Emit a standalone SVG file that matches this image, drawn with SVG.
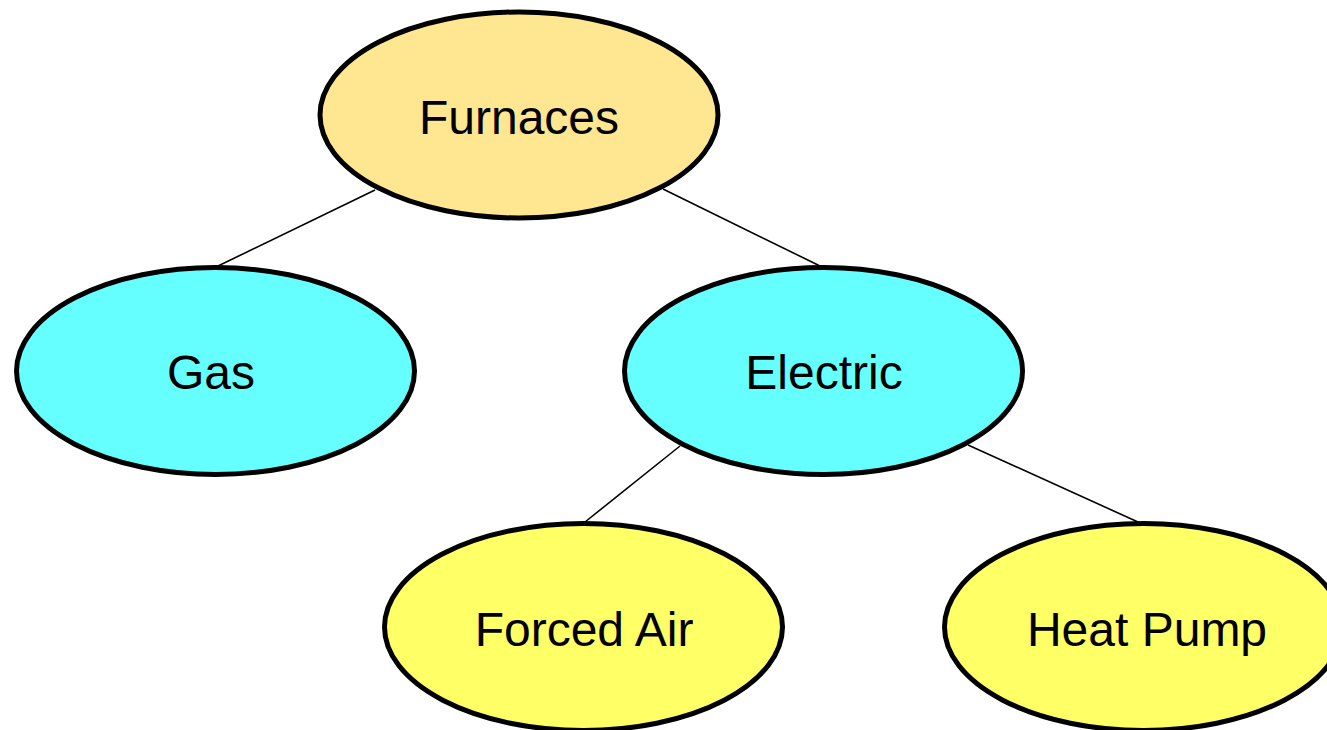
<svg xmlns="http://www.w3.org/2000/svg" width="1327" height="730" viewBox="0 0 1327 730">
  <style>
    .node { stroke: #000; stroke-width: 5; }
    .root { fill: #FFE690; }
    .mid { fill: #66FFFF; }
    .leaf { fill: #FFFF66; }
    .label { font-family: "Liberation Sans", Arial, sans-serif; font-size: 48px; fill: #000; text-anchor: middle; }
    .edge { stroke: #000; stroke-width: 1.6; fill: none; }
  </style>
  <rect width="1327" height="730" fill="#fff"/>
  <g id="connectors">
    <line class="edge" x1="375" y1="190" x2="218" y2="266"/>
    <line class="edge" x1="663" y1="189" x2="820" y2="266"/>
    <line class="edge" x1="680" y1="446" x2="585" y2="522"/>
    <line class="edge" x1="968" y1="445" x2="1138" y2="522"/>
  </g>
  <g id="furnaces">
    <ellipse class="node root" cx="519" cy="115" rx="199" ry="103"/>
    <text class="label" x="519" y="134">Furnaces</text>
  </g>
  <g id="gas">
    <ellipse class="node mid" cx="215.5" cy="371" rx="199" ry="103.5"/>
    <text class="label" x="211" y="389">Gas</text>
  </g>
  <g id="electric">
    <ellipse class="node mid" cx="823.5" cy="371" rx="199" ry="103.5"/>
    <text class="label" x="824" y="389">Electric</text>
  </g>
  <g id="forced-air">
    <ellipse class="node leaf" cx="583.5" cy="627" rx="199" ry="103.5"/>
    <text class="label" x="584" y="646">Forced Air</text>
  </g>
  <g id="heat-pump">
    <ellipse class="node leaf" cx="1143.5" cy="627" rx="199" ry="103.5"/>
    <text class="label" x="1147" y="646">Heat Pump</text>
  </g>
</svg>
